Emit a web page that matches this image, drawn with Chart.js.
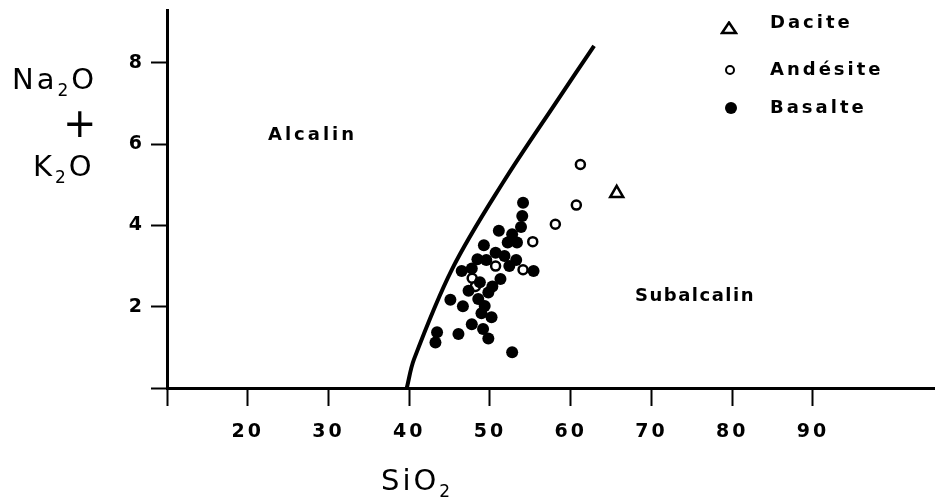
<!DOCTYPE html>
<html>
<head>
  <meta charset="utf-8">
  <title>alcalin / subalcalin</title>
  <script src="https://cdn.jsdelivr.net/npm/chart.js@4/dist/chart.umd.min.js"></script>
  <style>
    body { margin: 0; background: #fff; }
    #wrap { position: relative; width: 944px; height: 502px; font-family: "DejaVu Sans", sans-serif; color: #000; }
    #wrap canvas { position: absolute; left: 0; top: 0; }
    .lbl { position: absolute; white-space: nowrap; }
    .big { font-size: 29px; line-height: 29px; letter-spacing: 3px; }
    .small { font-size: 18px; line-height: 18px; font-weight: bold; letter-spacing: 3px; }
    .sub { font-size: 17px; position: relative; top: 7px; }
    .dot { position: absolute; border-radius: 50%; box-sizing: border-box; }
  </style>
</head>
<body>
<div id="wrap">
  <canvas id="chart" width="944" height="502"></canvas>

  <div class="lbl big" style="left:12px; top:65px">Na<span class="sub">2</span>O</div>
  <div class="lbl" style="left:63px; top:103px; font-size:40px; line-height:40px">+</div>
  <div class="lbl big" style="left:33px; top:152px">K<span class="sub">2</span>O</div>
  <div class="lbl big" style="left:381px; top:466px">SiO<span class="sub">2</span></div>

  <div class="lbl small" style="left:268px; top:125px">Alcalin</div>
  <div class="lbl small" style="left:635px; top:286px; letter-spacing:1.5px">Subalcalin</div>

  <svg style="position:absolute; left:720px; top:21px" width="18" height="14">
    <polygon points="9,1.5 16,12 2,12" fill="#fff" stroke="#000" stroke-width="2.5"/>
  </svg>
  <div class="lbl small" style="left:770px; top:13px">Dacite</div>
  <div class="dot" style="left:725px; top:65px; width:10px; height:10px; border:2.5px solid #000"></div>
  <div class="lbl small" style="left:770px; top:60px">Andésite</div>
  <div class="dot" style="left:725px; top:102px; width:12px; height:12px; background:#000"></div>
  <div class="lbl small" style="left:770px; top:98px">Basalte</div>
</div>
<script>
// limite alcalin / subalcalin
const limitSiO2 = [39.7, 40.6, 45.3, 51.6, 58.3, 62.9];
const limitAlk  = [0, 0.71, 2.92, 5.05, 7.06, 8.42];

const basalteSiO2 = [54.1, 54.0, 53.85, 51.1, 52.75, 52.2, 53.35, 49.25, 50.7, 51.8, 53.25, 48.45,
  49.55, 52.4, 55.4, 46.5, 47.75, 47.35, 48.75, 51.3, 50.3, 49.8, 48.55, 45.1, 46.65, 49.35,
  48.95, 50.2, 47.75, 49.15, 43.45, 46.1, 49.8, 43.25, 52.75];
const basalteAlk = [4.56, 4.23, 3.96, 3.87, 3.78, 3.58, 3.58, 3.51, 3.33, 3.25, 3.15, 3.17,
  3.15, 3.0, 2.88, 2.88, 2.94, 2.39, 2.6, 2.68, 2.5, 2.35, 2.19, 2.17, 2.01, 2.02,
  1.84, 1.74, 1.57, 1.45, 1.37, 1.33, 1.22, 1.12, 0.88];

const andesiteSiO2 = [61.2, 60.7, 58.1, 55.3, 54.1, 50.7, 47.8, 48.2];
const andesiteAlk  = [5.5, 4.5, 4.03, 3.6, 2.91, 3.0, 2.7, 2.5];

const daciteSiO2 = [65.7];
const daciteAlk  = [4.79];

const xTickLabels = [20, 30, 40, 50, 60, 70, 80, 90];
const yTickLabels = [2, 4, 6, 8];

function pts(xs, ys) {
  return xs.map((x, i) => ({x: x, y: ys[i]}));
}

const FONT = '"DejaVu Sans", sans-serif';

const spacing = {
  id: 'spacing',
  beforeDraw(chart) { chart.ctx.letterSpacing = '3px'; }
};

new Chart(document.getElementById('chart'), {
  type: 'scatter',
  data: {
    datasets: [{
      label: 'limite',
      data: pts(limitSiO2, limitAlk),
      showLine: true,
      tension: 0.35,
      borderColor: '#000',
      borderWidth: 4,
      pointRadius: 0,
    }, {
      label: 'Basalte',
      data: pts(basalteSiO2, basalteAlk),
      pointStyle: 'circle',
      pointRadius: 6,
      backgroundColor: '#000',
      borderWidth: 0,
    }, {
      label: 'Andésite',
      data: pts(andesiteSiO2, andesiteAlk),
      pointStyle: 'circle',
      pointRadius: 4.5,
      backgroundColor: '#fff',
      borderColor: '#000',
      borderWidth: 2.5,
    }, {
      label: 'Dacite',
      data: pts(daciteSiO2, daciteAlk),
      pointStyle: 'triangle',
      pointRadius: 7.5,
      backgroundColor: '#fff',
      borderColor: '#000',
      borderWidth: 2.5,
    }],
  },
  options: {
    responsive: false,
    animation: false,
    devicePixelRatio: 1,
    layout: { padding: { top: 7, right: -5, left: 0, bottom: 0 } },
    plugins: {
      legend: { display: false },
      tooltip: { enabled: false },
    },
    scales: {
      x: {
        type: 'linear',
        min: 10,
        max: 105,
        afterFit: s => { s.height = 114; s.paddingLeft = 0; s.paddingRight = 0; },
        border: { display: true, color: '#000', width: 3 },
        grid: {
          drawOnChartArea: false,
          tickLength: 18,
          tickWidth: 2,
          tickColor: ctx => (ctx.tick && ctx.tick.value > 90) ? 'rgba(0,0,0,0)' : '#000',
        },
        ticks: {
          stepSize: 10,
          includeBounds: false,
          autoSkip: false,
          maxRotation: 0,
          padding: 15,
          color: '#000',
          font: { family: FONT, size: 19, weight: 'bold' },
          callback: v => xTickLabels.includes(v) ? String(v) : '',
        },
      },
      y: {
        type: 'linear',
        min: 0,
        max: 9.3,
        afterFit: s => { s.width = 167; s.paddingTop = 0; s.paddingBottom = 0; },
        border: { display: true, color: '#000', width: 3 },
        grid: {
          drawOnChartArea: false,
          tickLength: 16,
          tickWidth: 2,
          tickColor: '#000',
        },
        ticks: {
          stepSize: 2,
          includeBounds: false,
          padding: 6,
          color: '#000',
          font: { family: FONT, size: 19, weight: 'bold' },
          callback: v => yTickLabels.includes(v) ? String(v) : '',
        },
      },
    },
  },
  plugins: [spacing],
});
</script>
</body>
</html>
